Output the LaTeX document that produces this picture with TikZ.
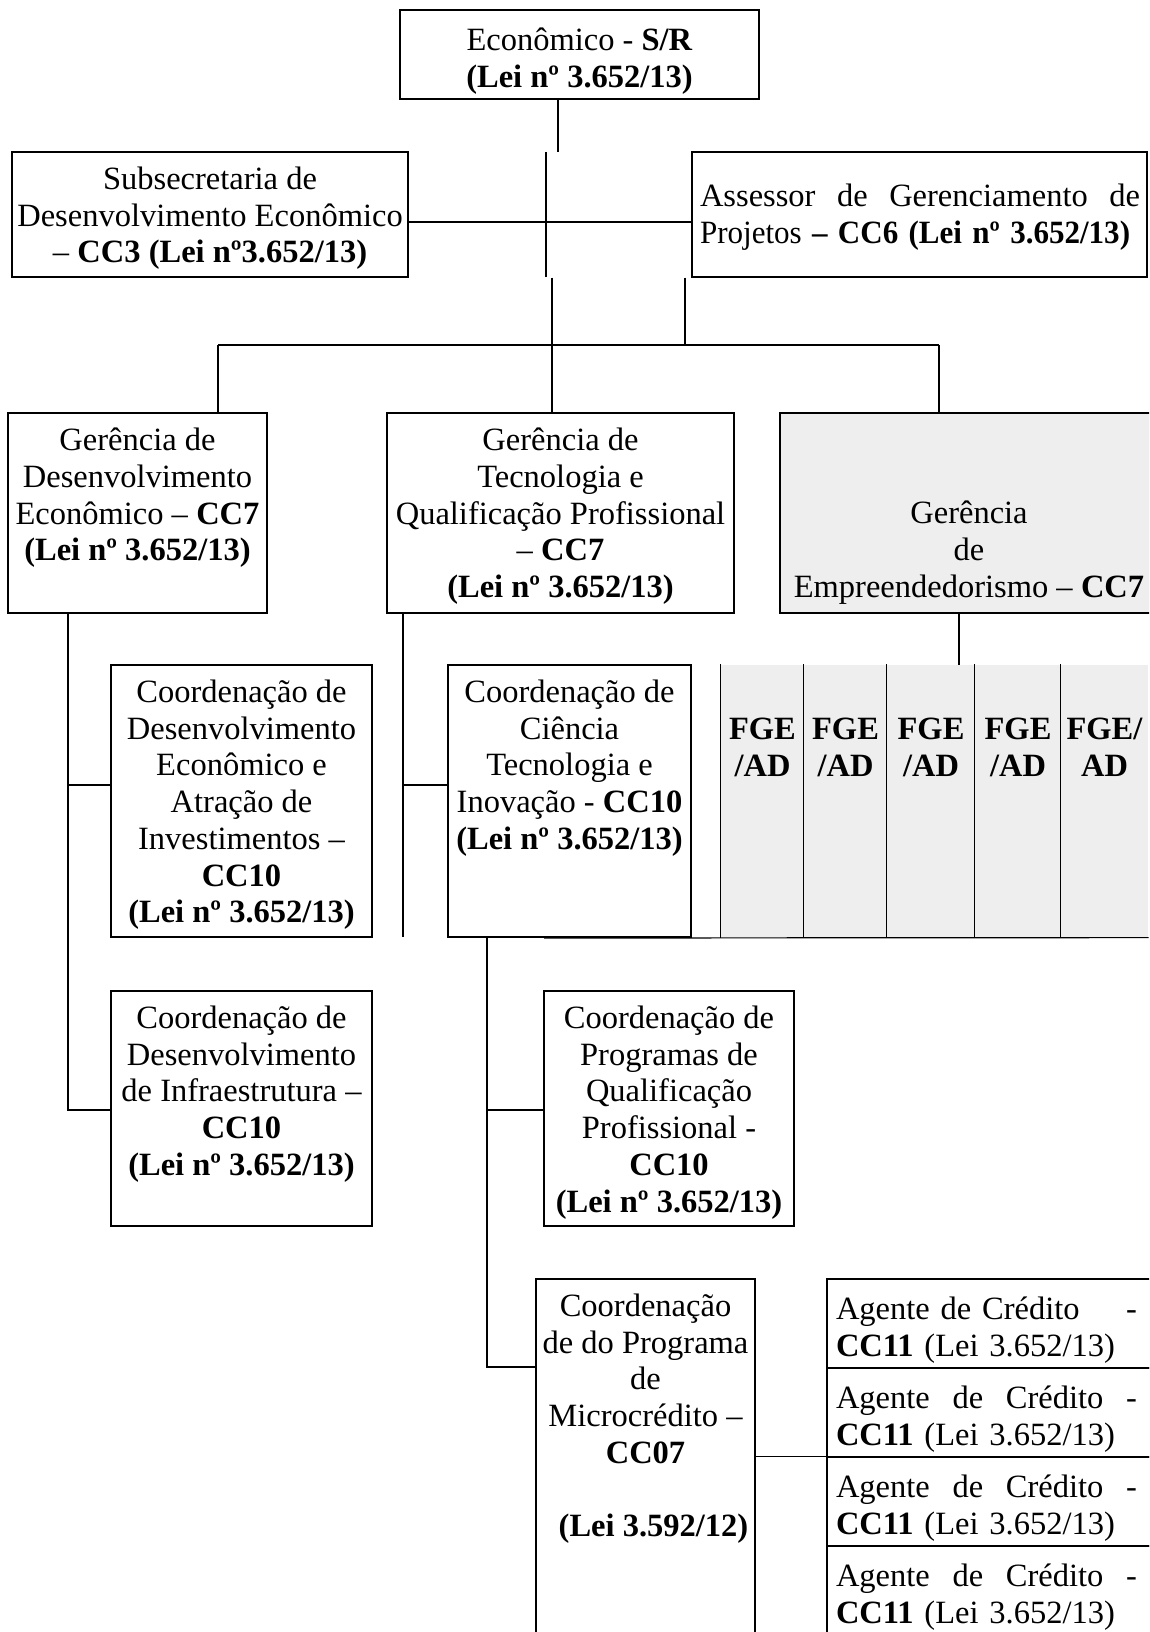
\documentclass[tikz,border=0pt]{standalone}
\usepackage{graphicx}
\usepackage{fontspec}
\setmainfont{Liberation Serif}
\usetikzlibrary{positioning,fit}
\definecolor{cellgray}{HTML}{EEEEEE}

\begin{document}
\begin{tikzpicture}[x=1pt,y=-1pt,line width=1.2pt,
        box/.style={draw,rectangle,inner sep=0pt},
        gbox/.style={box,fill=cellgray},
        cell/.style={rectangle,fill=cellgray,inner sep=0pt},
        txt/.style={inner sep=0pt,align=center,font=\fontsize{32.5}{36.7}\selectfont,execute at begin node=\strut},
        btxt/.style={txt,font=\fontsize{32.5}{36.7}\selectfont\bfseries},
        ltxt/.style={txt,align=left,text width=#1}]
    \useasboundingbox (0,0) rectangle (1149,1632);
    \clip (0,0) rectangle (1149,1632);

    % boxes
    \node[box, fit={(400,10) (759,99)}] (top) {};
    \node[txt, below=18pt of top.north] (top-t) {Econômico - \textbf{S/R}\\\textbf{(Lei nº 3.652/13)}};
    \node[box, fit={(12,152) (408,277)}] (subsec) {};
    \node[txt, below=15pt of subsec.north] (subsec-t) {Subsecretaria de\\Desenvolvimento Econômico\\– \textbf{CC3 (Lei nº3.652/13)}};
    \node[box, fit={(692,152) (1147,277)}] (assessor) {};
    \node[ltxt=440pt, below right=29pt and 8pt of assessor.north west] (assessor-t) {Assessor\hfill de\hfill Gerenciamento\hfill de\\\scalebox{0.955}[1]{Projetos \textbf{– CC6 (Lei nº 3.652/13)}}};

    \node[box, fit={(8,413) (267,613)}] (gde) {};
    \node[txt, below=15pt of gde.north] (gde-t) {Gerência de\\Desenvolvimento\\Econômico – \textbf{CC7}\\\textbf{(Lei nº 3.652/13)}};
    \node[box, fit={(387,413) (734,613)}] (gtqp) {};
    \node[txt, below=15pt of gtqp.north] (gtqp-t) {Gerência de\\Tecnologia e\\Qualificação Profissional\\– \textbf{CC7}\\\textbf{(Lei nº 3.652/13)}};
    \node[gbox, fit={(780,413) (1158,613)}] (emp) {};
    \node[txt, below=88pt of emp.north] (emp-t) {Gerência\\de\\Empreendedorismo – \textbf{CC7}};

    \node[box, fit={(111,665) (372,937)}] (cdeai) {};
    \node[txt, below=15pt of cdeai.north] (cdeai-t) {Coordenação de\\Desenvolvimento\\Econômico e\\Atração de\\Investimentos –\\\textbf{CC10}\\\textbf{(Lei nº 3.652/13)}};
    \node[box, fit={(448,665) (691,937)}] (ccti) {};
    \node[txt, below=15pt of ccti.north] (ccti-t) {Coordenação de\\Ciência\\Tecnologia e\\Inovação - \textbf{CC10}\\\textbf{(Lei nº 3.652/13)}};

    % FGE cells
    \foreach \i/\xa/\xb/\t in {1/721/804/{FGE\\/AD},2/804/887/{FGE\\/AD},3/887/975/{FGE\\/AD},4/975/1061/{FGE\\/AD},5/1061/1148/{FGE/\\AD}} {
        \node[cell, fit={(\xa,665) (\xb,937)}] (fge\i) {};
        \draw (fge\i.north west) -- (fge\i.south west);
        \node[btxt, below=53pt of fge\i.north] (fge\i-t) {\t};
    }
    \coordinate (fb) at (544,938);
    \draw (fb) -- (fge5.south east);

    \node[box, fit={(111,991) (372,1226)}] (cdi) {};
    \node[txt, below=15pt of cdi.north] (cdi-t) {Coordenação de\\Desenvolvimento\\de Infraestrutura –\\\textbf{CC10}\\\textbf{(Lei nº 3.652/13)}};
    \node[box, fit={(544,991) (794,1226)}] (cpqp) {};
    \node[txt, below=15pt of cpqp.north] (cpqp-t) {Coordenação de\\Programas de\\Qualificação\\Profissional -\\\textbf{CC10}\\\textbf{(Lei nº 3.652/13)}};
    \node[box, fit={(536,1279) (755,1645)}] (cpm) {};
    \node[txt, below=15pt of cpm.north] (cpm-t) {Coordenação\\de do Programa\\de\\Microcrédito –\\\textbf{CC07}\\[36.7pt]\hspace*{16pt}\textbf{(Lei 3.592/12)}};

    % Agentes de Credito
    \foreach \i/\ya/\yb/\l in {1/1279/1368/{Agente de Crédito\hfill -},2/1368/1457/{Agente\hfill de\hfill Crédito\hfill -},3/1457/1546/{Agente\hfill de\hfill Crédito\hfill -},4/1546/1645/{Agente\hfill de\hfill Crédito\hfill -}} {
        \node[box, fit={(827,\ya) (1160,\yb)}] (ag\i) {};
        \node[ltxt=301pt, below right=15pt and 9pt of ag\i.north west] (ag\i-t) {\l\\\textbf{CC11} (Lei 3.652/13)};
    }

    % connectors
    \coordinate (t1) at (558,152);
    \draw (t1 |- top.south) -- (t1);
    \coordinate (c1) at (546,152);
    \coordinate (c2) at (546,277);
    \draw (c1) -- (c2);
    \coordinate (mid) at (546,222);
    \draw (subsec.east |- mid) -- (assessor.west |- mid);
    \coordinate (b0) at (218,345);
    \coordinate (b1) at (552,345);
    \coordinate (b2) at (685,345);
    \coordinate (b3) at (939,345);
    \draw (b1 |- subsec.south) -- (b1);
    \draw (b2 |- assessor.south) -- (b2);
    \draw (b0) -- (b3);
    \draw (b0) -- (b0 |- gde.north);
    \draw (b1) -- (b1 |- gtqp.north);
    \draw (b3) -- (b3 |- emp.north);

    \coordinate (gx) at (68,1110);
    \coordinate (gy) at (68,785);
    \draw (gx |- gde.south) -- (gx) -- (cdi.west |- gx);
    \draw (gy) -- (cdeai.west |- gy);
    \coordinate (qx) at (403,937);
    \coordinate (qy) at (403,785);
    \draw (qx |- gtqp.south) -- (qx);
    \draw (qy) -- (ccti.west |- qy);
    \coordinate (ex) at (959,665);
    \draw (ex |- emp.south) -- (ex);

    \coordinate (kx) at (487,1367);
    \coordinate (ky) at (487,1110);
    \draw (kx |- ccti.south) -- (kx) -- (cpm.west |- kx);
    \draw (ky) -- (cpqp.west |- ky);
    \draw (cpm.east |- ag3.north west) -- (ag3.north west);
\end{tikzpicture}
\end{document}
